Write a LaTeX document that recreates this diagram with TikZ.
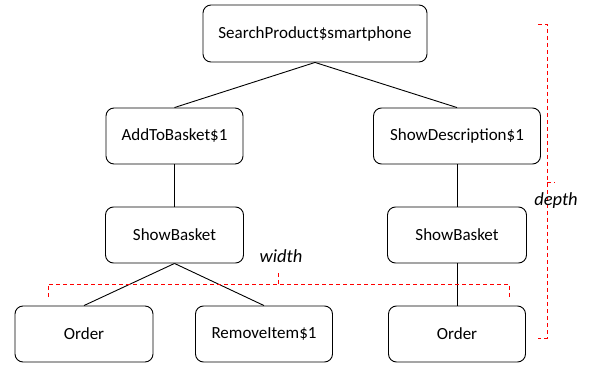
\documentclass[tikz,border=0pt]{standalone}
\usepackage{fontspec}
\setmainfont{Carlito}
\begin{document}
\begin{tikzpicture}[x=1pt,y=-1pt,
  box/.style={draw=black, line width=0.9pt, rounded corners=8pt, minimum height=56pt, inner sep=0pt, font=\fontsize{17}{20}\selectfont},
  edge/.style={draw=black, line width=0.9pt},
  brk/.style={draw=red, line width=0.9pt, dash pattern=on 4pt off 3pt},
  lbl/.style={font=\fontsize{18.5}{22}\selectfont\itshape, inner sep=0pt}]
\useasboundingbox (0,0) rectangle (589,366);
\node[box, minimum width=224pt, minimum height=57pt] (s) at (315,33.5) {SearchProduct\$smartphone};
\node[box, minimum width=137pt] (a) at (174.5,136) {AddToBasket\$1};
\node[box, minimum width=167pt] (d) at (457,136) {ShowDescription\$1};
\node[box, minimum width=138pt] (b1) at (174.5,235) {ShowBasket};
\node[box, minimum width=139pt] (b2) at (457,235) {ShowBasket};
\node[box, minimum width=138pt] (o1) at (84,334) {Order};
\node[box, minimum width=137pt] (r) at (264,334) {RemoveItem\$1};
\node[box, minimum width=137pt] (o2) at (457,334) {Order};
\draw[edge] (s.south) -- (a.north);
\draw[edge] (s.south) -- (d.north);
\draw[edge] (a.south) -- (b1.north);
\draw[edge] (d.south) -- (b2.north);
\draw[edge] (b1.south) -- (o1.north);
\draw[edge] (b1.south) -- (r.north);
\draw[edge] (b2.south) -- (o2.north);
% width bracket
\coordinate (w1) at (48,297);
\coordinate (w2) at (48,284);
\coordinate (w3) at (509,284);
\coordinate (w4) at (509,297);
\coordinate (wm) at (278,284);
\coordinate (wt) at (278,273);
\draw[brk] (w1) -- (w2) -- (w3) -- (w4);
\draw[brk] (wm) -- (wt);
\node[lbl] (wl) at (281,256) {width};
% depth bracket
\coordinate (d1) at (538,24);
\coordinate (d2) at (547,24);
\coordinate (d3) at (547,338);
\coordinate (d4) at (538,338);
\coordinate (dm) at (547,182);
\coordinate (dt) at (555,182);
\draw[brk] (d1) -- (d2) -- (d3) -- (d4);
\draw[brk] (dm) -- (dt);
\node[lbl] (dl) at (556,201) {depth};
\end{tikzpicture}
\end{document}
